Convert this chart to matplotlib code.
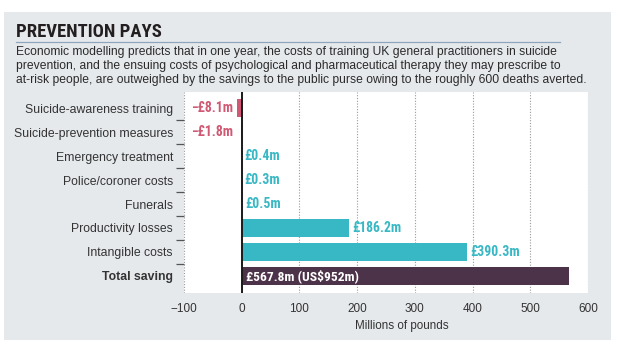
import matplotlib
matplotlib.use("Agg")
import matplotlib.pyplot as plt
from matplotlib import font_manager
from matplotlib.patches import Rectangle
from matplotlib.lines import Line2D
from matplotlib.ticker import FixedLocator

# ---------------- data ----------------
categories = [
    "Suicide-awareness training",
    "Suicide-prevention measures",
    "Emergency treatment",
    "Police/coroner costs",
    "Funerals",
    "Productivity losses",
    "Intangible costs",
    "Total saving",
]
values = [-8.1, -1.8, 0.4, 0.3, 0.5, 186.2, 390.3, 567.8]
value_labels = ["\u2212\u00a38.1m", "\u2212\u00a31.8m", "\u00a30.4m", "\u00a30.3m", "\u00a30.5m",
                "\u00a3186.2m", "\u00a3390.3m", "\u00a3567.8m (US$952m)"]
x_ticks = [-100, 0, 100, 200, 300, 400, 500, 600]
x_tick_labels = ["\u2212100", "0", "100", "200", "300", "400", "500", "600"]

title = "PREVENTION PAYS"
subtitle = ("Economic modelling predicts that in one year, the costs of training UK general practitioners in suicide\n"
            "prevention, and the ensuing costs of psychological and pharmaceutical therapy they may prescribe to\n"
            "at-risk people, are outweighed by the savings to the public purse owing to the roughly 600 deaths averted.")
xlabel = "Millions of pounds"

# ---------------- fonts ----------------
def find_condensed(bold):
    cands = []
    for f in font_manager.fontManager.ttflist:
        nm = f.name.lower()
        st = str(f.stretch).lower()
        cond = ("narrow" in nm or "condensed" in nm or "condensed" in st or st in ("semi-condensed",))
        isbold = (f.weight in ("bold", 700) or (isinstance(f.weight, int) and f.weight >= 600))
        if cond and isbold == bold and "oblique" not in f.style and "italic" not in f.style:
            cands.append(f)
    pref = ["liberation", "roboto", "open", "noto", "dejavu"]
    cands.sort(key=lambda f: next((i for i, p in enumerate(pref) if p in f.name.lower()), 99))
    if cands:
        return font_manager.FontProperties(fname=cands[0].fname)
    return None

fp_cb = find_condensed(True)
if fp_cb is None:
    fp_cb = font_manager.FontProperties(family="Roboto", weight="bold")
BODY = "Liberation Sans"

def fp(base, size):
    p = base.copy()
    p.set_size(size)
    return p

PINK = "#cf5873"
TEAL = "#38b8c5"
PURPLE = "#4d3349"
PANEL = "#e6e9ec"
TEXT = "#333333"

W, H = 623, 364
fig = plt.figure(figsize=(W / 100, H / 100), dpi=100, facecolor="white")

# grey panel
panel = Rectangle((4 / W, 1 - 340 / H), (611 - 4) / W, (340 - 12) / H,
                  transform=fig.transFigure, facecolor=PANEL, edgecolor="none", zorder=-10)
fig.add_artist(panel)

fig.text(16 / W, 1 - 37 / H, title, fontproperties=fp(fp_cb, 13.4),
         color="#231f20", ha="left", va="baseline")
fig.add_artist(Line2D([16 / W, 560 / W], [1 - 41.5 / H, 1 - 41.5 / H], transform=fig.transFigure,
                      color="#8fa4bd", lw=0.9))
fig.text(16 / W, 1 - 46.5 / H, subtitle, family=BODY, fontsize=8.75, color="#2b2b2b",
         ha="left", va="top", linespacing=1.17)

ax = fig.add_axes([184 / W, 1 - 293 / H, (588 - 184) / W, (293 - 92) / H])
ax.set_facecolor("white")
for s in ax.spines.values():
    s.set_visible(False)

ypos = list(range(len(categories)))
colors = [PINK if v < 0 else TEAL for v in values]
colors[-1] = PURPLE
ax.barh(ypos, values, height=0.76, color=colors, zorder=3)
ax.axvline(0, color="#1a1a1a", lw=1.4, zorder=4)

ax.set_xlim(-100, 600)
ax.set_ylim(len(categories) - 0.29, -0.67)
ax.set_xticks(x_ticks)
ax.set_xticklabels(x_tick_labels, family=BODY, fontsize=8.5, color=TEXT)
ax.tick_params(axis="x", length=0, pad=7)
ax.grid(axis="x", color="#9a9a9a", linestyle=(0, (1, 1.5)), lw=0.8, zorder=1)

ax.set_yticks(ypos)
ax.set_yticklabels(categories, family=BODY, fontsize=8.8, color=TEXT)
ax.get_yticklabels()[-1].set_fontweight("bold")
ax.tick_params(axis="y", length=0, pad=8)
ax.yaxis.set_minor_locator(FixedLocator([i + 0.5 for i in range(len(categories) - 1)]))
ax.tick_params(axis="y", which="minor", length=6, width=0.9, color="#555555", direction="out")

ax.set_xlabel(xlabel, family=BODY, fontsize=8.4, color=TEXT, labelpad=2)
ax.xaxis.set_label_coords((241 + 161 - 184) / (588 - 184), -0.135)

for i, (v, lab) in enumerate(zip(values, value_labels)):
    if i == len(values) - 1:
        ax.annotate(lab, (0, i), xytext=(3, 0), textcoords="offset points", ha="left", va="center",
                    fontproperties=fp(fp_cb, 9.7), color="white", zorder=5)
    elif v < 0:
        ax.annotate(lab, (0, i), xytext=(-6, 0), textcoords="offset points", ha="right", va="center",
                    fontproperties=fp(fp_cb, 9.9), color=PINK, zorder=5)
    else:
        ax.annotate(lab, (v, i), xytext=(2, 0), textcoords="offset points", ha="left", va="center",
                    fontproperties=fp(fp_cb, 9.9), color=TEAL, zorder=5)

fig.savefig("out.png", dpi=100, facecolor="white")
